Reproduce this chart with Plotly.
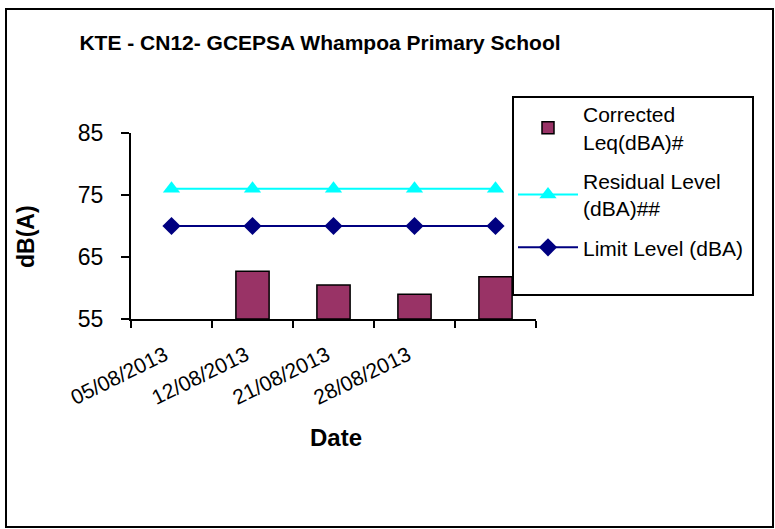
import plotly.graph_objects as go

# ---- data ----
categories = ["05/08/2013", "12/08/2013", "21/08/2013", "28/08/2013", ""]
corrected_leq = [None, 62.7, 60.5, 59.0, 61.8]
residual_level = [76, 76, 76, 76, 76]
limit_level = [70, 70, 70, 70, 70]
y_ticks = [55, 65, 75, 85]

title_text = "KTE - CN12- GCEPSA Whampoa Primary School"
FONT = "Liberation Sans, Arial, sans-serif"

W, H = 775, 529
L, R, T, B = 131, 239, 133, 210
PW, PH = W - L - R, H - T - B


def px(x):
    return (x - L) / PW


def py(y):
    return (H - B - y) / PH


xi = list(range(len(categories)))

fig = go.Figure()
fig.add_trace(go.Bar(
    x=xi, y=[None if v is None else v - 55 for v in corrected_leq], base=55,
    name="Corrected<br>Leq(dBA)#", width=0.41, legendgroup="a",
    marker=dict(color="#993366", line=dict(color="black", width=1.5)),
))
fig.add_trace(go.Scatter(
    x=xi, y=residual_level, mode="lines+markers", name="Residual Level<br>(dBA)##",
    legendgroup="b",
    line=dict(color="#00FFFF", width=2),
    marker=dict(symbol="triangle-up", size=15, color="#00FFFF"),
))
fig.add_trace(go.Scatter(
    x=xi, y=limit_level, mode="lines+markers", name="Limit Level (dBA)",
    legendgroup="c",
    line=dict(color="#000080", width=2),
    marker=dict(symbol="diamond", size=14, color="#000080"),
))

fig.update_layout(
    width=W, height=H,
    margin=dict(l=L, r=R, t=T, b=B, pad=0),
    paper_bgcolor="white", plot_bgcolor="white",
    font=dict(family=FONT, color="black"),
    title=dict(text="<b>" + title_text + "</b>", x=320 / W, y=1 - 43 / H,
               xref="container", yref="container", xanchor="center", yanchor="middle",
               font=dict(size=21, family=FONT, color="black")),
    showlegend=True,
    legend=dict(x=px(513), y=py(94), xanchor="left", yanchor="top",
                bgcolor="rgba(0,0,0,0)", borderwidth=0, itemwidth=60,
                font=dict(size=21, family=FONT, color="black"),
                traceorder="grouped", tracegroupgap=9),
)

fig.update_xaxes(
    range=[-0.5, 4.5], showgrid=False, zeroline=False,
    showline=True, linecolor="black", linewidth=2,
    tickmode="array", tickvals=[v - 0.08 for v in xi], ticktext=categories,
    ticks="", tickangle=-26, ticklabelstandoff=14,
    tickfont=dict(size=21, family=FONT, color="black"),
    minor=dict(tickmode="array", tickvals=[v - 0.5 for v in xi] + [xi[-1] + 0.5],
               ticks="outside", ticklen=7, tickwidth=1.5, tickcolor="black"),
)
fig.update_yaxes(
    range=[55, 85], showgrid=False, zeroline=False,
    showline=True, linecolor="black", linewidth=2,
    tickmode="array", tickvals=y_ticks,
    ticks="outside", ticklen=8, tickwidth=1.5, tickcolor="black",
    ticklabelstandoff=13,
    tickfont=dict(size=23, family=FONT, color="black"),
)

fig.add_annotation(text="<b>Date</b>", x=px(336), y=py(437), xref="paper", yref="paper",
                   showarrow=False, xanchor="center", yanchor="middle",
                   font=dict(size=24, family=FONT, color="black"))
fig.add_annotation(text="<b>dB(A)</b>", x=px(26), y=py(237), xref="paper", yref="paper",
                   showarrow=False, xanchor="center", yanchor="middle", textangle=-90,
                   font=dict(size=23, family=FONT, color="black"))

# outer chart frame
fig.add_shape(type="rect", xref="paper", yref="paper",
              x0=px(6), x1=px(773), y0=py(527), y1=py(9),
              line=dict(color="black", width=2), fillcolor="rgba(0,0,0,0)", layer="below")
# legend frame
fig.add_shape(type="rect", xref="paper", yref="paper",
              x0=px(513), x1=px(753), y0=py(295), y1=py(97),
              line=dict(color="black", width=2), fillcolor="white", layer="above")

fig.write_html("out.html", config={"displayModeBar": False},
               post_script="document.body.style.margin='0px';")
